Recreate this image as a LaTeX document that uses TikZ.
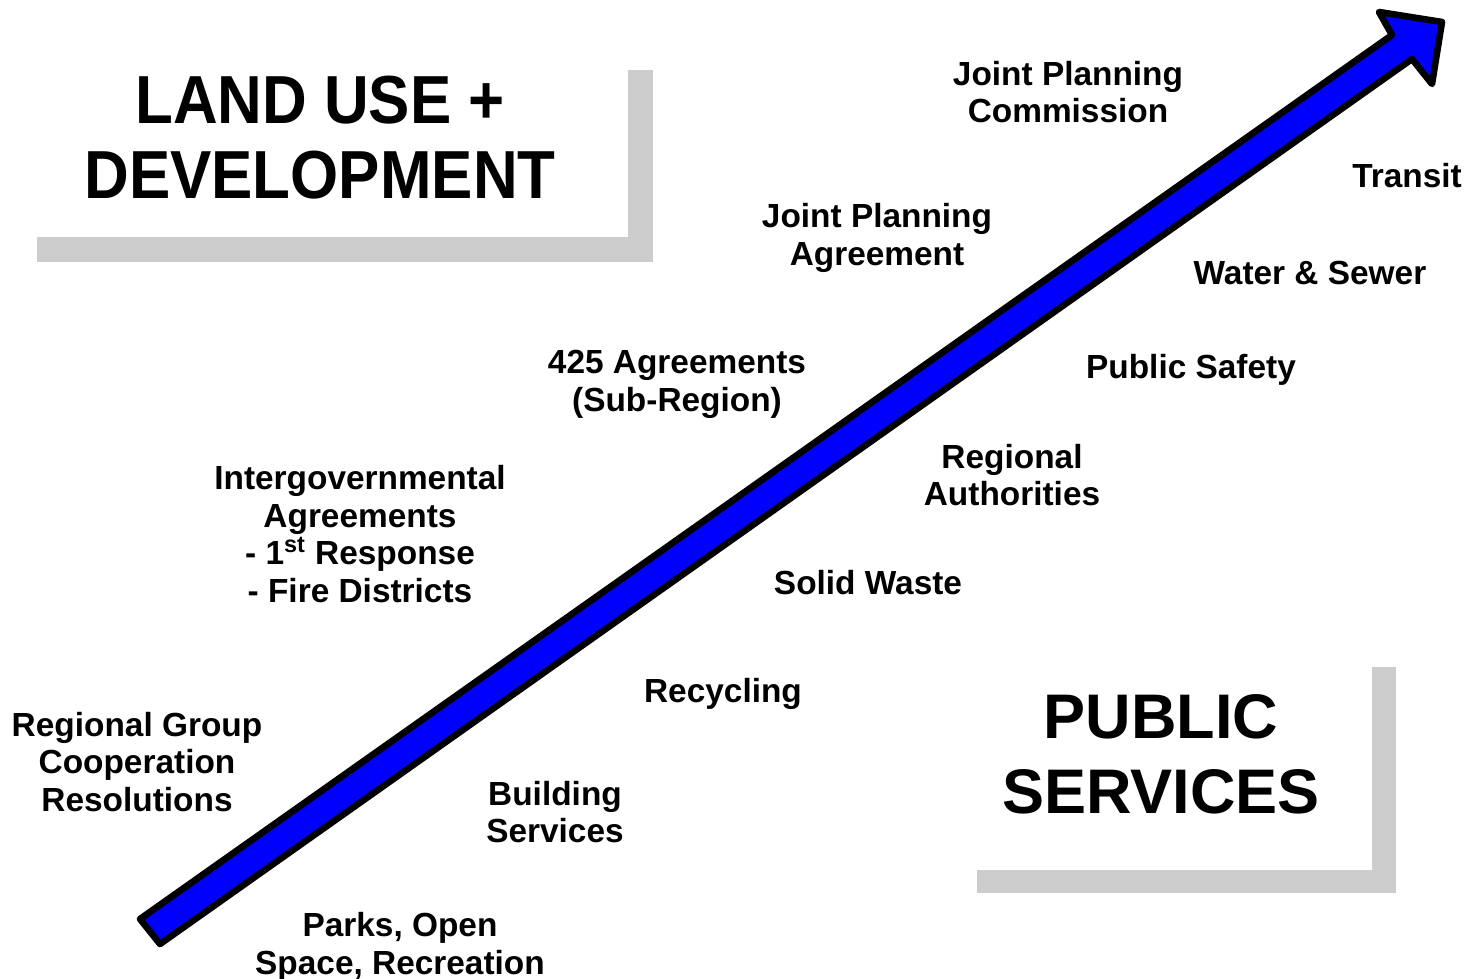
\documentclass[tikz,border=0pt]{standalone}
\usepackage{fontspec}
\setmainfont{Liberation Sans}
\newfontfamily\narrowfont[FakeStretch=0.91]{Liberation Sans}
\usepackage{tikz}

\definecolor{shadowgrey}{RGB}{204,204,204}
\definecolor{arrowblue}{RGB}{0,0,255}

\tikzset{
    item/.style={font=\bfseries\fontsize{16.7}{18.9}\selectfont, align=center, inner sep=0pt},
    title/.style={font=\bfseries\fontsize{31.5}{37.5}\selectfont, align=center, inner sep=0pt},
    shadowbox/.style={fill=shadowgrey, draw=none},
    whitebox/.style={fill=white, draw=none}
}

\begin{document}
\begin{tikzpicture}[x=0.5pt, y=-0.5pt]
            \useasboundingbox (0,0) rectangle (1474,979);

            % The title boxes
            \fill[shadowbox] (37,70) rectangle (653,262);
            \fill[whitebox] (12,45) rectangle (628,237);
            \fill[shadowbox] (977,667) rectangle (1396,893);
            \fill[whitebox] (953,643) rectangle (1372,870);

            \node[title, font=\narrowfont\bfseries\fontsize{34}{37.5}\selectfont] (landuse) at (320,138) {LAND USE +\\DEVELOPMENT};
            \node[title] (public) at (1161,754) {PUBLIC\\SERVICES};

            % The arrow
            \draw[line width=3.3pt, line join=round, fill=arrowblue]
                (140,919) -- (1392,35) -- (1379,12) -- (1442,22)
                -- (1432,84) -- (1412,59) -- (160,944) -- cycle;

            % land use side
            \node[item] (jpc) at (1068,92) {Joint Planning\\Commission};
            \node[item] (jpa) at (877,238) {Joint Planning\\Agreement};
            \node[item] (agr) at (677,384) {425 Agreements\\(Sub-Region)};
            \node[item] (iga) at (360,534) {Intergovernmental\\Agreements\\- 1\textsuperscript{st} Response\\- Fire Districts};
            \node[item] (rgc) at (137,762) {Regional Group\\Cooperation\\Resolutions};

            % public services side
            \node[item] (transit) at (1407,176) {Transit};
            \node[item] (water) at (1310,273) {Water \& Sewer};
            \node[item] (safety) at (1191,370) {Public Safety};
            \node[item] (auth) at (1012,475) {Regional\\Authorities};
            \node[item] (waste) at (868,583) {Solid Waste};
            \node[item] (recyc) at (723,694) {Recycling};
            \node[item] (build) at (555,812) {Building\\Services};
            \node[item] (parks) at (400,947) {Parks, Open\\Space, Recreation};
        \end{tikzpicture}
\end{document}
